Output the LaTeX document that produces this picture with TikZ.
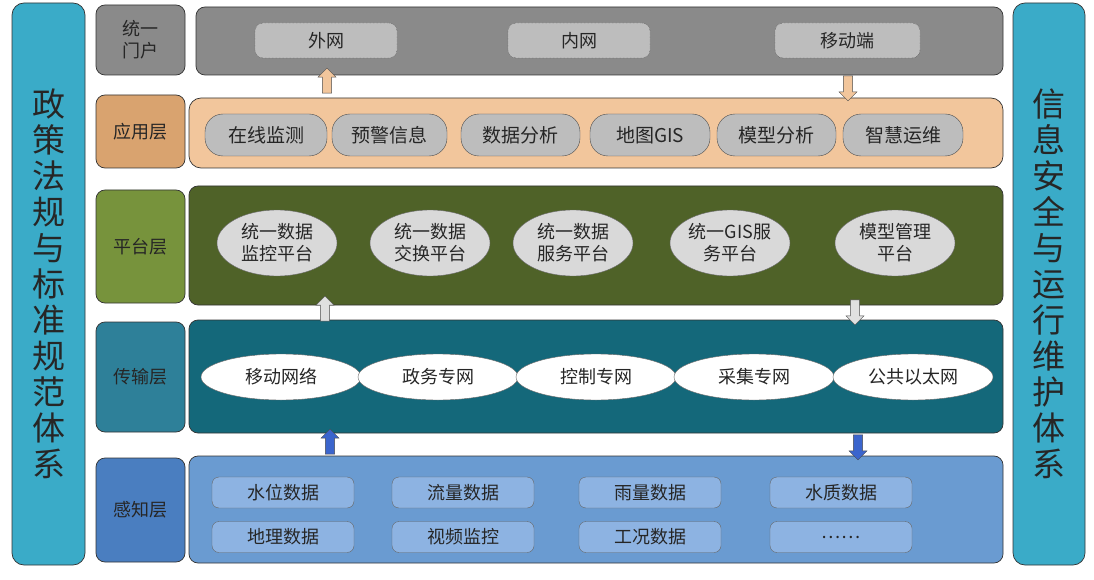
\documentclass[tikz,border=0pt]{standalone}
\usepackage{fontspec}
\setmainfont{Noto Sans CJK SC}
\usetikzlibrary{shapes.geometric,shapes.arrows}
\definecolor{side}{HTML}{3AABC8}
\definecolor{gtop}{HTML}{8A8A8A}
\definecolor{gin}{HTML}{BDBDBD}
\definecolor{app}{HTML}{F2C69C}
\definecolor{appl}{HTML}{D9A36F}
\definecolor{plat}{HTML}{4F6228}
\definecolor{platl}{HTML}{77933C}
\definecolor{tran}{HTML}{14687A}
\definecolor{tranl}{HTML}{2E8099}
\definecolor{sens}{HTML}{6A9BD1}
\definecolor{sensl}{HTML}{4A7EC0}
\definecolor{sensb}{HTML}{8DB3E2}
\definecolor{txt}{HTML}{262626}
\tikzset{
 box/.style={draw=black!80,rounded corners=9pt,line width=0.7pt},
 lab/.style={box,font=\fontsize{18}{22}\selectfont,text=txt,align=center},
 pill/.style={draw=black!70,fill=gin,rounded corners=18pt,minimum height=42pt,font=\fontsize{19}{21}\selectfont,text=txt},
 web/.style={draw=black!75,densely dotted,fill=gin,rounded corners=8pt,minimum height=35pt,font=\fontsize{18}{20}\selectfont,text=txt},
 pell/.style={ellipse,draw=black!60,fill=black!15,minimum width=120pt,minimum height=66pt,font=\fontsize{18}{22}\selectfont,text=txt,align=center,inner sep=0pt},
 tell/.style={ellipse,draw=black!60,fill=white,minimum width=160pt,minimum height=46pt,font=\fontsize{18}{20}\selectfont,text=txt,inner sep=0pt},
 sbox/.style={draw=black!60,fill=sensb,rounded corners=7pt,minimum width=142pt,minimum height=31pt,font=\fontsize{18}{20}\selectfont,text=txt},
 barr/.style={single arrow,draw=black!70,minimum height=25pt,minimum width=18pt,single arrow head extend=3pt,inner sep=3pt,shape border rotate=90},
}
\begin{document}
\begin{tikzpicture}[x=1pt,y=-1pt]
\useasboundingbox (0,0) rectangle (1094,580);
% side bars
\node[box,fill=side,minimum width=73pt,minimum height=562pt,rounded corners=12pt] (L) at (48.5,284) {};
\node[font=\fontsize{33}{36}\selectfont,text=txt,align=center] (Lt) at (48.5,284) {政\\策\\法\\规\\与\\标\\准\\规\\范\\体\\系};
\node[box,fill=side,minimum width=72pt,minimum height=562pt,rounded corners=12pt] (R) at (1049,284) {};
\node[font=\fontsize{33}{36}\selectfont,text=txt,align=center] (Rt) at (1049,284) {信\\息\\安\\全\\与\\运\\行\\维\\护\\体\\系};
% labels
\node[lab,fill=gtop,minimum width=89pt,minimum height=70pt] (l1) at (140.5,40) {统一\\门户};
\node[lab,fill=appl,minimum width=89pt,minimum height=73pt] (l2) at (140.5,131.5) {应用层};
\node[lab,fill=platl,minimum width=89pt,minimum height=113pt] (l3) at (140.5,246.5) {平台层};
\node[lab,fill=tranl,minimum width=89pt,minimum height=110pt] (l4) at (140.5,377) {传输层};
\node[lab,fill=sensl,minimum width=89pt,minimum height=104pt] (l5) at (140.5,510) {感知层};
% content boxes
\node[box,fill=gtop,minimum width=807pt,minimum height=68pt] (c1) at (599.5,41) {};
\node[box,fill=app,minimum width=814pt,minimum height=70pt,rounded corners=12pt] (c2) at (596,133) {};
\node[box,fill=plat,minimum width=814pt,minimum height=119pt] (c3) at (596,245.5) {};
\node[box,fill=tran,minimum width=814pt,minimum height=113pt] (c4) at (596,376.5) {};
\node[box,fill=sens,minimum width=814pt,minimum height=107pt] (c5) at (596,509.5) {};
% portal
\node[web,minimum width=142pt] (w1) at (326,40.5) {外网};
\node[web,minimum width=142pt] (w2) at (579,40.5) {内网};
\node[web,minimum width=145pt] (w3) at (847.5,40.5) {移动端};
% app
\node[pill,minimum width=122pt] (a1) at (266,135) {在线监测};
\node[pill,minimum width=115pt] (a2) at (389.5,135) {预警信息};
\node[pill,minimum width=119pt] (a3) at (520.5,135) {数据分析};
\node[pill,minimum width=120pt] (a4) at (650,135) {地图GIS};
\node[pill,minimum width=119pt] (a5) at (776.5,135) {模型分析};
\node[pill,minimum width=120pt] (a6) at (903,135) {智慧运维};
% platform
\node[pell] (p1) at (277,243) {统一数据\\监控平台};
\node[pell] (p2) at (430,243) {统一数据\\交换平台};
\node[pell] (p3) at (573,243) {统一数据\\服务平台};
\node[pell] (p4) at (730,243) {统一GIS服\\务平台};
\node[pell] (p5) at (895,243) {模型管理\\平台};
% transport
\node[tell] (t1) at (281,377) {移动网络};
\node[tell] (t2) at (438,377) {政务专网};
\node[tell] (t3) at (596,377) {控制专网};
\node[tell] (t4) at (754,377) {采集专网};
\node[tell] (t5) at (913,377) {公共以太网};
% sensing
\node[sbox] (s1) at (283,492.5) {水位数据};
\node[sbox] (s2) at (463,492.5) {流量数据};
\node[sbox] (s3) at (650,492.5) {雨量数据};
\node[sbox] (s4) at (841,492.5) {水质数据};
\node[sbox] (s5) at (283,537) {地理数据};
\node[sbox] (s6) at (463,537) {视频监控};
\node[sbox] (s7) at (650,537) {工况数据};
\node[sbox] (s8) at (841,537) {……};
% arrows
\node[barr,fill=app] (ar1) at (327,83) {};
\node[barr,fill=app,shape border rotate=270] (ar2) at (848,86) {};
\node[barr,fill=black!12] (ar3) at (325,311) {};
\node[barr,fill=black!12,shape border rotate=270] (ar4) at (855,310) {};
\node[barr,fill=sensl!80!blue] (ar5) at (330,444) {};
\node[barr,fill=sensl!80!blue,shape border rotate=270] (ar6) at (858,445) {};
\end{tikzpicture}
\end{document}
